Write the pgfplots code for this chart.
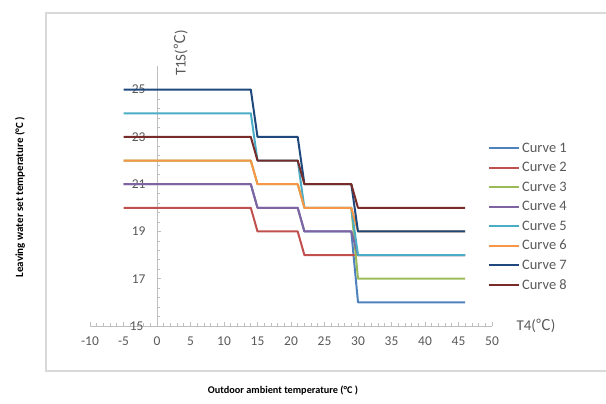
\documentclass[border=0pt]{standalone}
\usepackage{pgfplots}
\pgfplotsset{compat=1.18}
\usepackage{fontspec}
\setmainfont{Carlito}
\newfontfamily\cjk{Noto Sans CJK SC}
\definecolor{c1}{HTML}{4F81BD}
\definecolor{c2}{HTML}{C0504D}
\definecolor{c3}{HTML}{9BBB59}
\definecolor{c4}{HTML}{8064A2}
\definecolor{c5}{HTML}{4BACC6}
\definecolor{c6}{HTML}{F79646}
\definecolor{c7}{HTML}{1F497D}
\definecolor{c8}{HTML}{772C2A}
\definecolor{axgray}{HTML}{BFBFBF}
\definecolor{txtgray}{HTML}{595959}
\begin{document}
\begin{tikzpicture}[x=1bp,y=1bp]
\useasboundingbox (0,0) rectangle (606,403);
\draw[color=black!15, line width=1.2bp] (620,390) -- (46,390) -- (46,32) -- (620,32);
\node[rotate=90, font=\fontsize{11}{13}\selectfont\bfseries] at (20,206) {Leaving water set temperature (°C )};
\node[font=\fontsize{10.3}{12}\selectfont\bfseries] at (283,13) {Outdoor ambient temperature (°C )};
\begin{axis}[
  at={(90bp,77bp)}, anchor=south west,
  scale only axis, width=402bp, height=260bp,
  xmin=-10, xmax=50, ymin=15, ymax=26,
  axis x line=bottom, axis y line=middle,
  axis line style={axgray, line width=1bp, -},
  xtick={-10,-5,...,50}, ytick={15,17,...,25},
  minor x tick num=4, minor y tick num=4,
  tick align=inside,
  major tick length=4bp, minor tick length=3bp,
  tick style={axgray, line width=0.8bp},
  /pgf/number format/assume math mode=true,
  ticklabel style={font=\fontsize{13.5}{15}\selectfont, text=txtgray},
  xticklabel style={yshift=-7bp},
  yticklabel style={xshift=-8bp},
  clip=false,
  legend style={at={(0.99,0.713)}, anchor=north west, draw=none, fill=none,
    font=\fontsize{14.5}{17}\selectfont, text=txtgray, row sep=4.6bp, inner sep=0pt},
  legend cell align=left,
  legend image code/.code={\draw[#1, line width=2bp] (0bp,0bp) -- (30bp,0bp);},
  every axis plot/.append style={line width=2bp, line join=round},
]
\addplot[c1] coordinates {(-5,21) (14,21) (15,20) (21,20) (22,19) (29,19) (30,16) (46,16)};
\addplot[c2] coordinates {(-5,20) (14,20) (15,19) (21,19) (22,18) (29,18) (30,18) (46,18)};
\addplot[c3] coordinates {(-5,22) (14,22) (15,21) (21,21) (22,20) (29,20) (30,17) (46,17)};
\addplot[c4] coordinates {(-5,21) (14,21) (15,20) (21,20) (22,19) (29,19) (30,18) (46,18)};
\addplot[c5] coordinates {(-5,24) (14,24) (15,22) (21,22) (22,20) (29,20) (30,18) (46,18)};
\addplot[c6] coordinates {(-5,22) (14,22) (15,21) (21,21) (22,20) (29,20) (30,19) (46,19)};
\addplot[c7] coordinates {(-5,25) (14,25) (15,23) (21,23) (22,21) (29,21) (30,19) (46,19)};
\addplot[c8] coordinates {(-5,23) (14,23) (15,22) (21,22) (22,21) (29,21) (30,20) (46,20)};
\legend{Curve 1,Curve 2,Curve 3,Curve 4,Curve 5,Curve 6,Curve 7,Curve 8}
\node[font=\fontsize{13.5}{15}\selectfont, text=txtgray, anchor=east, xshift=-10bp] at (axis cs:0,15) {15};
\end{axis}
\node[rotate=90, font=\fontsize{15}{17}\selectfont, text=txtgray] at (181,350) {T1S({\cjk ℃})};
\node[font=\fontsize{15}{17}\selectfont, text=txtgray] at (536,77) {T4({\cjk ℃})};
\end{tikzpicture}
\end{document}
